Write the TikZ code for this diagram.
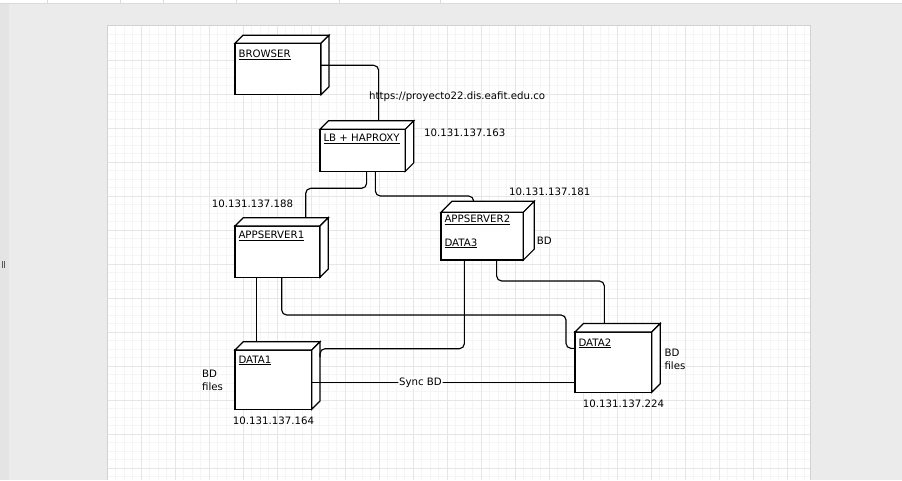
\documentclass[tikz,border=0pt]{standalone}
\usepackage{fontspec}
\setmainfont{DejaVu Sans}
\usetikzlibrary{calc}
\definecolor{bg}{HTML}{EBEBEB}
\definecolor{leftbar}{HTML}{E4E4E4}
\definecolor{minorgrid}{HTML}{F5F5F5}
\definecolor{majorgrid}{HTML}{E6E6E6}
\definecolor{pageedge}{HTML}{D2D2D2}
\definecolor{sepc}{HTML}{DADADA}
\tikzset{
  face/.style={draw=black, fill=white, line width=1.15pt, line join=miter},
  frontbox/.style={face, inner sep=0pt, outer sep=0pt, anchor=north west},
  conn/.style={draw=black, line width=1.15pt, rounded corners=5pt},
  txt/.style={font=\fontsize{10.2}{12.7}\selectfont, inner sep=0pt, anchor=base west, text=black},
  synclabel/.style={font=\fontsize{10.2}{12.7}\selectfont, inner sep=0.8pt, fill=white, text=black},
}
\newcommand\depbox[6]{%
  \node[frontbox, minimum width=#4pt, minimum height=#5pt] (#1) at (#2,#3) {};
  \draw[face] (#1.north west) -- ++(#6,-#6) -- ([shift={(#6,-#6)}]#1.north east) -- (#1.north east) -- cycle;
  \draw[face] (#1.north east) -- ([shift={(#6,-#6)}]#1.north east) -- ([shift={(#6,-#6)}]#1.south east) -- (#1.south east) -- cycle;
}
\begin{document}
\begin{tikzpicture}[x=1pt,y=-1pt]
\useasboundingbox (0,0) rectangle (902,480);
% editor background
\fill[bg] (0,0) rectangle (902,480);
\fill[leftbar] (0,3) rectangle (9,480);
\fill[white] (0,0) rectangle (902,3);
\draw[sepc, line width=0.8pt] (0,3.3) -- (902,3.3);
\foreach \sx in {47.7,120.7,163.3,236.7,339.3,440.7} {\draw[sepc, line width=0.8pt] (\sx,0) -- (\sx,3);}
\draw[black!65, line width=0.7pt] (2.6,261) -- (2.6,268);
\draw[black!65, line width=0.7pt] (4.6,261) -- (4.6,268);
% page
\fill[pageedge] (106.5,25) rectangle (811.2,480);
\fill[white] (107.5,26) rectangle (810,480);
\foreach \i in {1,...,82} {\draw[minorgrid, line width=0.6pt] ({107+8.5*\i},26) -- ({107+8.5*\i},480);}
\foreach \j in {1,...,53} {\draw[minorgrid, line width=0.6pt] (107.5,{26+8.5*\j}) -- (810,{26+8.5*\j});}
\foreach \i in {1,...,20} {\draw[majorgrid, line width=0.7pt] ({107+34*\i},26) -- ({107+34*\i},480);}
\foreach \j in {1,...,13} {\draw[majorgrid, line width=0.7pt] (107.5,{26+34*\j}) -- (810,{26+34*\j});}

% boxes
\depbox{browser}{235}{43.3}{86}{51.4}{8}
\depbox{lb}{320}{129.3}{85.3}{42}{8.5}
\depbox{app1}{235}{226}{85}{51.3}{8.3}
\depbox{app2}{441}{212.3}{82.3}{47.7}{11}
\depbox{data1}{235}{350}{76.7}{59.3}{8.3}
\depbox{data2}{575}{332}{76.7}{60.3}{8.5}

% titles
\node[txt] (browserT) at ([shift={(3.3,14)}]browser.north west) {\underline{BROWSER}};
\node[txt] (lbT) at ([shift={(3.3,12.6)}]lb.north west) {\underline{LB + HAPROXY}};
\node[txt] (app1T) at ([shift={(3.3,12.7)}]app1.north west) {\underline{APPSERVER1}};
\node[txt] (app2T) at ([shift={(3.3,10)}]app2.north west) {\underline{APPSERVER2}};
\node[txt] (data3T) at ([shift={(3.3,33.7)}]app2.north west) {\underline{DATA3}};
\node[txt] (data1T) at ([shift={(3.3,13)}]data1.north west) {\underline{DATA1}};
\node[txt] (data2T) at ([shift={(3.3,14)}]data2.north west) {\underline{DATA2}};

% connectors
\draw[conn] ([yshift=3.7pt]browser.east) -| ([shift={(16,-8.5)}]lb.north);
\draw[conn] ([xshift=4pt]lb.south) -- ++(0,17) -| ([shift={(28.2,-8.3)}]app1.north);
\draw[conn] ([xshift=12.7pt]lb.south) -- ++(0,24.7) -| ([shift={(-8.5,-11)}]app2.north);
\coordinate (d1top) at ([yshift=8.3pt]data1.north);
\coordinate (a1s) at ([xshift=-20.8pt]app1.south);
\draw[conn] (a1s) -- (a1s |- d1top);
\coordinate (e2) at ([yshift=13.8pt]data2.west);
\draw[conn] ([xshift=4.2pt]app1.south) -- ++(0,37.7) -| ([xshift=-9pt]e2) -- (e2);
\draw[conn] ([xshift=-17.8pt]app2.south) -- ++(0,88.7) -| ([shift={(8.3,-22.5)}]data1.east);
\draw[conn] ([xshift=14.5pt]app2.south) -- ++(0,21) -| ([shift={(-9,-8.5)}]data2.north);
\coordinate (s1) at ([yshift=-3pt]data1.east);
\draw[conn] (s1) -- (s1 -| data2.west) node[synclabel, pos=0.413] (sync) {Sync BD};

% free labels
\node[txt] (url) at (369,99.7) {https://proyecto22.dis.eafit.edu.co};
\node[txt] (ip163) at (424,136.3) {10.131.137.163};
\node[txt] (ip181) at (509,195) {10.131.137.181};
\node[txt] (ip188) at (211.7,207.7) {10.131.137.188};
\node[txt] (bd3) at (536.7,244) {BD};
\node[txt] (bd1) at (202,377.3) {BD};
\node[txt] (files1) at (202,390) {files};
\node[txt] (ip164) at (232.7,424) {10.131.137.164};
\node[txt] (bd2) at (664.3,356.7) {BD};
\node[txt] (files2) at (664.3,369) {files};
\node[txt] (ip224) at (582.7,407.7) {10.131.137.224};
\end{tikzpicture}
\end{document}
